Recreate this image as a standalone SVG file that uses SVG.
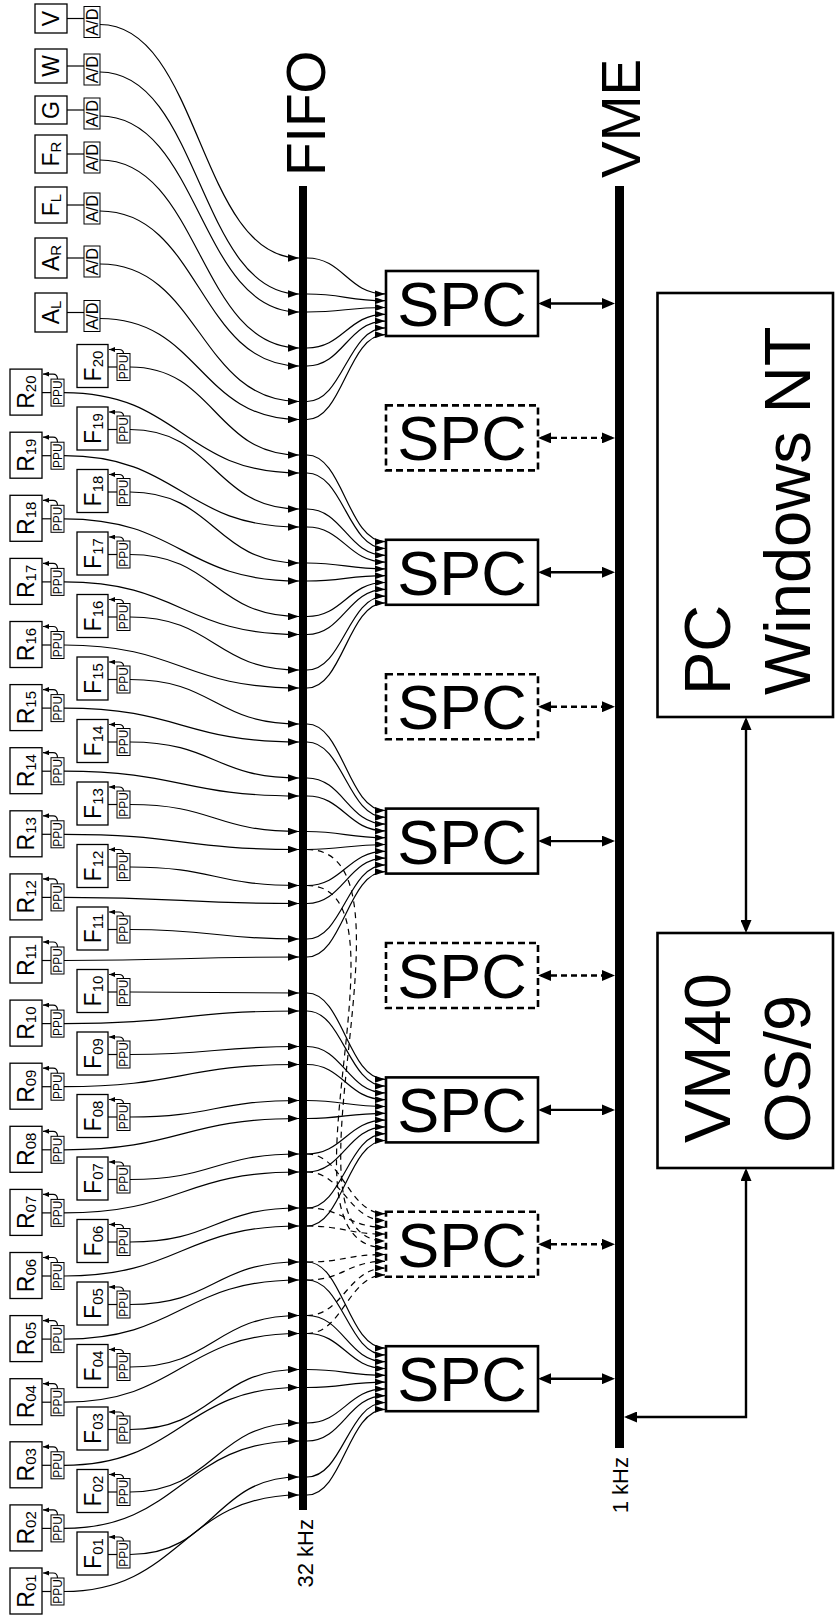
<svg xmlns="http://www.w3.org/2000/svg" width="839" height="1618" viewBox="0 0 839 1618">
<style>
text{font-family:"Liberation Sans",Arial,Helvetica,sans-serif;fill:#000}
.bx{fill:#fff;stroke:#000;stroke-width:1.3}
.sb{fill:#fff;stroke:#000;stroke-width:1}
.ln{fill:none;stroke:#000;stroke-width:1.2}
.cv{fill:none;stroke:#000;stroke-width:1.2;marker-end:url(#ah)}
.sc{fill:none;stroke:#000;stroke-width:1.2;marker-end:url(#ahs)}
.dc{fill:none;stroke:#000;stroke-width:1.2;stroke-dasharray:6 5;marker-end:url(#ahs)}
.spc{fill:#fff;stroke:#000;stroke-width:2.6}
.spcd{fill:#fff;stroke:#000;stroke-width:2.6;stroke-dasharray:7 4}
.big{fill:none;stroke:#000;stroke-width:2.4;marker-start:url(#bh);marker-end:url(#bh)}
.bigd{fill:none;stroke:#000;stroke-width:2.4;stroke-dasharray:6 4;marker-start:url(#bh);marker-end:url(#bh)}
.bus{fill:#000}
.lb{font-size:23px}
.ss{font-size:15px}
.tiny{font-size:12px}
.ad{font-size:16.5px}
.st{font-size:63px}
.pt{font-size:65px}
.bl{font-size:55px}
.hz{font-size:22px}
</style>
<defs>
<marker id="ah" markerUnits="userSpaceOnUse" viewBox="0 0 11 7.5" markerWidth="11" markerHeight="7.5" refX="11" refY="3.75" orient="auto"><path d="M0,0L11,3.75L0,7.5z" fill="#000"/></marker>
<marker id="ahs" markerUnits="userSpaceOnUse" viewBox="0 0 10 7" markerWidth="10" markerHeight="7" refX="10" refY="3.5" orient="auto"><path d="M0,0L10,3.5L0,7z" fill="#000"/></marker>
<marker id="bh" markerUnits="userSpaceOnUse" viewBox="0 0 13 11" markerWidth="13" markerHeight="11" refX="10" refY="5.5" orient="auto-start-reverse"><path d="M0,0L13,5.5L0,11z" fill="#000"/></marker>
<marker id="fb" markerUnits="userSpaceOnUse" viewBox="0 0 6 5" markerWidth="6" markerHeight="5" refX="6" refY="2.5" orient="auto"><path d="M0,0L6,2.5L0,5z" fill="#000"/></marker>
<g id="rs">
<rect class="bx" x="10" y="0" width="32" height="46"/>
<path class="ln" d="M42,23.5H51"/>
<rect class="sb" x="51" y="10" width="13" height="27"/>
<text class="tiny" transform="translate(62.3,23.5) rotate(-90)" text-anchor="middle">PPU</text>
<path class="ln" d="M57.5,10Q57.5,5 53,5H43" marker-end="url(#fb)"/>
</g>
<g id="fs">
<rect class="bx" x="77" y="0" width="31" height="43"/>
<path class="ln" d="M108,22.5H117"/>
<rect class="sb" x="117" y="9" width="13" height="27"/>
<text class="tiny" transform="translate(128.3,22.5) rotate(-90)" text-anchor="middle">PPU</text>
<path class="ln" d="M123.5,9Q123.5,5 119,5H109" marker-end="url(#fb)"/>
</g>
</defs>

<g id="connectors">
<path class="cv" d="M100,24.5C200,24.5 199,258 299,258"/>
<path class="cv" d="M100,72C200,72 199,294 299,294"/>
<path class="cv" d="M100,116C200,116 199,312 299,312"/>
<path class="cv" d="M100,160C200,160 199,348 299,348"/>
<path class="cv" d="M100,211C200,211 199,366 299,366"/>
<path class="cv" d="M100,264C200,264 199,401.5 299,401.5"/>
<path class="cv" d="M100,318.5C200,318.5 199,419.5 299,419.5"/>
<path class="cv" d="M64,1591.5C181,1591.5 182,1495 299,1495"/>
<path class="cv" d="M64,1528.4C181,1528.4 182,1441 299,1441"/>
<path class="cv" d="M64,1465.3C181,1465.3 182,1387.5 299,1387.5"/>
<path class="cv" d="M64,1402.2C181,1402.2 182,1333.5 299,1333.5"/>
<path class="cv" d="M64,1339.1C181,1339.1 182,1280 299,1280"/>
<path class="cv" d="M64,1276C181,1276 182,1226 299,1226"/>
<path class="cv" d="M64,1212.9C181,1212.9 182,1172 299,1172"/>
<path class="cv" d="M64,1149.8C181,1149.8 182,1118.5 299,1118.5"/>
<path class="cv" d="M64,1086.7C181,1086.7 182,1064.5 299,1064.5"/>
<path class="cv" d="M64,1023.6C181,1023.6 182,1011 299,1011"/>
<path class="cv" d="M64,960.5C181,960.5 182,957 299,957"/>
<path class="cv" d="M64,897.4C181,897.4 182,903.5 299,903.5"/>
<path class="cv" d="M64,834.3C181,834.3 182,849.5 299,849.5"/>
<path class="cv" d="M64,771.2C181,771.2 182,796 299,796"/>
<path class="cv" d="M64,708.1C181,708.1 182,742 299,742"/>
<path class="cv" d="M64,645C181,645 182,688 299,688"/>
<path class="cv" d="M64,581.9C181,581.9 182,634.5 299,634.5"/>
<path class="cv" d="M64,518.8C181,518.8 182,581 299,581"/>
<path class="cv" d="M64,455.7C181,455.7 182,527 299,527"/>
<path class="cv" d="M64,392.6C181,392.6 182,473 299,473"/>
<path class="cv" d="M130,1554.5C215,1554.5 214,1477 299,1477"/>
<path class="cv" d="M130,1492C215,1492 214,1423 299,1423"/>
<path class="cv" d="M130,1429.5C215,1429.5 214,1369.5 299,1369.5"/>
<path class="cv" d="M130,1367C215,1367 214,1315.5 299,1315.5"/>
<path class="cv" d="M130,1304.5C215,1304.5 214,1262 299,1262"/>
<path class="cv" d="M130,1242C215,1242 214,1208 299,1208"/>
<path class="cv" d="M130,1179.5C215,1179.5 214,1154 299,1154"/>
<path class="cv" d="M130,1117C215,1117 214,1100.5 299,1100.5"/>
<path class="cv" d="M130,1054.5C215,1054.5 214,1046.5 299,1046.5"/>
<path class="cv" d="M130,992C215,992 214,993 299,993"/>
<path class="cv" d="M130,929.5C215,929.5 214,939 299,939"/>
<path class="cv" d="M130,867C215,867 214,885.5 299,885.5"/>
<path class="cv" d="M130,804.5C215,804.5 214,831.5 299,831.5"/>
<path class="cv" d="M130,742C215,742 214,778 299,778"/>
<path class="cv" d="M130,679.5C215,679.5 214,724 299,724"/>
<path class="cv" d="M130,617C215,617 214,670 299,670"/>
<path class="cv" d="M130,554.5C215,554.5 214,616.5 299,616.5"/>
<path class="cv" d="M130,492C215,492 214,563 299,563"/>
<path class="cv" d="M130,429.5C215,429.5 214,509 299,509"/>
<path class="cv" d="M130,367C215,367 214,455 299,455"/>

<path class="sc" d="M307,258C343,258 348,293.9 385,293.9"/>
<path class="sc" d="M307,294C343,294 348,300.7 385,300.7"/>
<path class="sc" d="M307,312C343,312 348,307.5 385,307.5"/>
<path class="sc" d="M307,348C343,348 348,314.3 385,314.3"/>
<path class="sc" d="M307,366C343,366 348,321.1 385,321.1"/>
<path class="sc" d="M307,401.5C343,401.5 348,327.9 385,327.9"/>
<path class="sc" d="M307,419.5C343,419.5 348,334.7 385,334.7"/>

<path class="sc" d="M307,455C343,455 348,541.7 385,541.7"/>
<path class="sc" d="M307,473C343,473 348,548.5 385,548.5"/>
<path class="sc" d="M307,509C343,509 348,555.3 385,555.3"/>
<path class="sc" d="M307,527C343,527 348,562.1 385,562.1"/>
<path class="sc" d="M307,563C343,563 348,568.9 385,568.9"/>
<path class="sc" d="M307,581C343,581 348,575.7 385,575.7"/>
<path class="sc" d="M307,616.5C343,616.5 348,582.5 385,582.5"/>
<path class="sc" d="M307,634.5C343,634.5 348,589.3 385,589.3"/>
<path class="sc" d="M307,670C343,670 348,596.1 385,596.1"/>
<path class="sc" d="M307,688C343,688 348,602.9 385,602.9"/>

<path class="sc" d="M307,724C343,724 348,810.5 385,810.5"/>
<path class="sc" d="M307,742C343,742 348,817.3 385,817.3"/>
<path class="sc" d="M307,778C343,778 348,824.1 385,824.1"/>
<path class="sc" d="M307,796C343,796 348,830.9 385,830.9"/>
<path class="sc" d="M307,831.5C343,831.5 348,837.7 385,837.7"/>
<path class="sc" d="M307,849.5C343,849.5 348,844.5 385,844.5"/>
<path class="sc" d="M307,885.5C343,885.5 348,851.3 385,851.3"/>
<path class="sc" d="M307,903.5C343,903.5 348,858.1 385,858.1"/>
<path class="sc" d="M307,939C343,939 348,864.9 385,864.9"/>
<path class="sc" d="M307,957C343,957 348,871.7 385,871.7"/>

<path class="sc" d="M307,993C343,993 348,1079.3 385,1079.3"/>
<path class="sc" d="M307,1011C343,1011 348,1086.1 385,1086.1"/>
<path class="sc" d="M307,1046.5C343,1046.5 348,1092.9 385,1092.9"/>
<path class="sc" d="M307,1064.5C343,1064.5 348,1099.7 385,1099.7"/>
<path class="sc" d="M307,1100.5C343,1100.5 348,1106.5 385,1106.5"/>
<path class="sc" d="M307,1118.5C343,1118.5 348,1113.3 385,1113.3"/>
<path class="sc" d="M307,1154C343,1154 348,1120.1 385,1120.1"/>
<path class="sc" d="M307,1172C343,1172 348,1126.9 385,1126.9"/>
<path class="sc" d="M307,1208C343,1208 348,1133.7 385,1133.7"/>
<path class="sc" d="M307,1226C343,1226 348,1140.5 385,1140.5"/>

<path class="sc" d="M307,1262C343,1262 348,1348.1 385,1348.1"/>
<path class="sc" d="M307,1280C343,1280 348,1354.9 385,1354.9"/>
<path class="sc" d="M307,1315.5C343,1315.5 348,1361.7 385,1361.7"/>
<path class="sc" d="M307,1333.5C343,1333.5 348,1368.5 385,1368.5"/>
<path class="sc" d="M307,1369.5C343,1369.5 348,1375.3 385,1375.3"/>
<path class="sc" d="M307,1387.5C343,1387.5 348,1382.1 385,1382.1"/>
<path class="sc" d="M307,1423C343,1423 348,1388.9 385,1388.9"/>
<path class="sc" d="M307,1441C343,1441 348,1395.7 385,1395.7"/>
<path class="sc" d="M307,1477C343,1477 348,1402.5 385,1402.5"/>
<path class="sc" d="M307,1495C343,1495 348,1409.3 385,1409.3"/>

<path class="dc" d="M307,1154C343,1154 348,1213.7 385,1213.7"/>
<path class="dc" d="M307,1172C343,1172 348,1220.5 385,1220.5"/>
<path class="dc" d="M307,1208C343,1208 348,1227.3 385,1227.3"/>
<path class="dc" d="M307,1226C343,1226 348,1234.1 385,1234.1"/>
<path class="dc" d="M307,849.5C430,849.5 270,1240.9 385,1240.9"/>
<path class="dc" d="M307,885.5C420,885.5 265,1247.7 385,1247.7"/>
<path class="dc" d="M307,1262C343,1262 348,1254.5 385,1254.5"/>
<path class="dc" d="M307,1280C343,1280 348,1261.3 385,1261.3"/>
<path class="dc" d="M307,1315.5C343,1315.5 348,1268.1 385,1268.1"/>
<path class="dc" d="M307,1333.5C343,1333.5 348,1274.9 385,1274.9"/>

<path class="big" d="M541,303.5H612"/>
<path class="bigd" d="M541,437.9H612"/>
<path class="big" d="M541,572.3H612"/>
<path class="bigd" d="M541,706.7H612"/>
<path class="big" d="M541,841.1H612"/>
<path class="bigd" d="M541,975.5H612"/>
<path class="big" d="M541,1109.9H612"/>
<path class="bigd" d="M541,1244.3H612"/>
<path class="big" d="M541,1378.7H612"/>
<path class="big" d="M746,720V930"/>
<path class="big" d="M746,1171V1417H627"/>
</g>

<g id="FIFO">
<rect class="bus" x="299" y="186" width="8" height="1324"/>
<text class="bl" transform="translate(325,176) rotate(-90)">FIFO</text>
<text class="hz" transform="translate(313,1519) rotate(-90)" text-anchor="end">32 kHz</text>
</g>
<g id="VME">
<rect class="bus" x="615" y="186" width="9" height="1262"/>
<text class="bl" transform="translate(640,178) rotate(-90)">VME</text>
<text class="hz" transform="translate(628,1457) rotate(-90)" text-anchor="end">1 kHz</text>
</g>

<g id="V"><rect class="bx" x="35" y="4" width="32" height="29"/><text class="lb" transform="translate(59,18.5) rotate(-90)" text-anchor="middle">V</text><path class="ln" d="M67,18.5H84"/><rect class="sb" x="84" y="6.5" width="16" height="31"/><text class="ad" transform="translate(98,22) rotate(-90)" text-anchor="middle">A/D</text></g>
<g id="W"><rect class="bx" x="35" y="49" width="32" height="34"/><text class="lb" transform="translate(59,66) rotate(-90)" text-anchor="middle">W</text><path class="ln" d="M67,66H84"/><rect class="sb" x="84" y="54" width="16" height="31"/><text class="ad" transform="translate(98,69.5) rotate(-90)" text-anchor="middle">A/D</text></g>
<g id="G"><rect class="bx" x="35" y="96" width="32" height="28"/><text class="lb" transform="translate(59,110) rotate(-90)" text-anchor="middle">G</text><path class="ln" d="M67,110H84"/><rect class="sb" x="84" y="98" width="16" height="31"/><text class="ad" transform="translate(98,113.5) rotate(-90)" text-anchor="middle">A/D</text></g>
<g id="FR"><rect class="bx" x="35" y="135" width="32" height="38"/><text class="lb" transform="translate(59,154) rotate(-90)" text-anchor="middle">F<tspan class="ss" dy="2">R</tspan></text><path class="ln" d="M67,154H84"/><rect class="sb" x="84" y="142" width="16" height="31"/><text class="ad" transform="translate(98,157.5) rotate(-90)" text-anchor="middle">A/D</text></g>
<g id="FL"><rect class="bx" x="35" y="187" width="32" height="36"/><text class="lb" transform="translate(59,205) rotate(-90)" text-anchor="middle">F<tspan class="ss" dy="2">L</tspan></text><path class="ln" d="M67,205H84"/><rect class="sb" x="84" y="193" width="16" height="31"/><text class="ad" transform="translate(98,208.5) rotate(-90)" text-anchor="middle">A/D</text></g>
<g id="AR"><rect class="bx" x="35" y="238" width="32" height="40"/><text class="lb" transform="translate(59,258) rotate(-90)" text-anchor="middle">A<tspan class="ss" dy="2">R</tspan></text><path class="ln" d="M67,258H84"/><rect class="sb" x="84" y="246" width="16" height="31"/><text class="ad" transform="translate(98,261.5) rotate(-90)" text-anchor="middle">A/D</text></g>
<g id="AL"><rect class="bx" x="35" y="293" width="32" height="39"/><text class="lb" transform="translate(59,312.5) rotate(-90)" text-anchor="middle">A<tspan class="ss" dy="2">L</tspan></text><path class="ln" d="M67,312.5H84"/><rect class="sb" x="84" y="300.5" width="16" height="31"/><text class="ad" transform="translate(98,316) rotate(-90)" text-anchor="middle">A/D</text></g>

<g id="R01" transform="translate(0,1568)"><use href="#rs"/><text class="lb" transform="translate(33.5,23) rotate(-90)" text-anchor="middle">R<tspan class="ss" dy="2">01</tspan></text></g>
<g id="R02" transform="translate(0,1504.9)"><use href="#rs"/><text class="lb" transform="translate(33.5,23) rotate(-90)" text-anchor="middle">R<tspan class="ss" dy="2">02</tspan></text></g>
<g id="R03" transform="translate(0,1441.8)"><use href="#rs"/><text class="lb" transform="translate(33.5,23) rotate(-90)" text-anchor="middle">R<tspan class="ss" dy="2">03</tspan></text></g>
<g id="R04" transform="translate(0,1378.7)"><use href="#rs"/><text class="lb" transform="translate(33.5,23) rotate(-90)" text-anchor="middle">R<tspan class="ss" dy="2">04</tspan></text></g>
<g id="R05" transform="translate(0,1315.6)"><use href="#rs"/><text class="lb" transform="translate(33.5,23) rotate(-90)" text-anchor="middle">R<tspan class="ss" dy="2">05</tspan></text></g>
<g id="R06" transform="translate(0,1252.5)"><use href="#rs"/><text class="lb" transform="translate(33.5,23) rotate(-90)" text-anchor="middle">R<tspan class="ss" dy="2">06</tspan></text></g>
<g id="R07" transform="translate(0,1189.4)"><use href="#rs"/><text class="lb" transform="translate(33.5,23) rotate(-90)" text-anchor="middle">R<tspan class="ss" dy="2">07</tspan></text></g>
<g id="R08" transform="translate(0,1126.3)"><use href="#rs"/><text class="lb" transform="translate(33.5,23) rotate(-90)" text-anchor="middle">R<tspan class="ss" dy="2">08</tspan></text></g>
<g id="R09" transform="translate(0,1063.2)"><use href="#rs"/><text class="lb" transform="translate(33.5,23) rotate(-90)" text-anchor="middle">R<tspan class="ss" dy="2">09</tspan></text></g>
<g id="R10" transform="translate(0,1000.1)"><use href="#rs"/><text class="lb" transform="translate(33.5,23) rotate(-90)" text-anchor="middle">R<tspan class="ss" dy="2">10</tspan></text></g>
<g id="R11" transform="translate(0,937)"><use href="#rs"/><text class="lb" transform="translate(33.5,23) rotate(-90)" text-anchor="middle">R<tspan class="ss" dy="2">11</tspan></text></g>
<g id="R12" transform="translate(0,873.9)"><use href="#rs"/><text class="lb" transform="translate(33.5,23) rotate(-90)" text-anchor="middle">R<tspan class="ss" dy="2">12</tspan></text></g>
<g id="R13" transform="translate(0,810.8)"><use href="#rs"/><text class="lb" transform="translate(33.5,23) rotate(-90)" text-anchor="middle">R<tspan class="ss" dy="2">13</tspan></text></g>
<g id="R14" transform="translate(0,747.7)"><use href="#rs"/><text class="lb" transform="translate(33.5,23) rotate(-90)" text-anchor="middle">R<tspan class="ss" dy="2">14</tspan></text></g>
<g id="R15" transform="translate(0,684.6)"><use href="#rs"/><text class="lb" transform="translate(33.5,23) rotate(-90)" text-anchor="middle">R<tspan class="ss" dy="2">15</tspan></text></g>
<g id="R16" transform="translate(0,621.5)"><use href="#rs"/><text class="lb" transform="translate(33.5,23) rotate(-90)" text-anchor="middle">R<tspan class="ss" dy="2">16</tspan></text></g>
<g id="R17" transform="translate(0,558.4)"><use href="#rs"/><text class="lb" transform="translate(33.5,23) rotate(-90)" text-anchor="middle">R<tspan class="ss" dy="2">17</tspan></text></g>
<g id="R18" transform="translate(0,495.3)"><use href="#rs"/><text class="lb" transform="translate(33.5,23) rotate(-90)" text-anchor="middle">R<tspan class="ss" dy="2">18</tspan></text></g>
<g id="R19" transform="translate(0,432.2)"><use href="#rs"/><text class="lb" transform="translate(33.5,23) rotate(-90)" text-anchor="middle">R<tspan class="ss" dy="2">19</tspan></text></g>
<g id="R20" transform="translate(0,369.1)"><use href="#rs"/><text class="lb" transform="translate(33.5,23) rotate(-90)" text-anchor="middle">R<tspan class="ss" dy="2">20</tspan></text></g>

<g id="F01" transform="translate(0,1532)"><use href="#fs"/><text class="lb" transform="translate(100.5,21.5) rotate(-90)" text-anchor="middle">F<tspan class="ss" dy="2">01</tspan></text></g>
<g id="F02" transform="translate(0,1469.5)"><use href="#fs"/><text class="lb" transform="translate(100.5,21.5) rotate(-90)" text-anchor="middle">F<tspan class="ss" dy="2">02</tspan></text></g>
<g id="F03" transform="translate(0,1407)"><use href="#fs"/><text class="lb" transform="translate(100.5,21.5) rotate(-90)" text-anchor="middle">F<tspan class="ss" dy="2">03</tspan></text></g>
<g id="F04" transform="translate(0,1344.5)"><use href="#fs"/><text class="lb" transform="translate(100.5,21.5) rotate(-90)" text-anchor="middle">F<tspan class="ss" dy="2">04</tspan></text></g>
<g id="F05" transform="translate(0,1282)"><use href="#fs"/><text class="lb" transform="translate(100.5,21.5) rotate(-90)" text-anchor="middle">F<tspan class="ss" dy="2">05</tspan></text></g>
<g id="F06" transform="translate(0,1219.5)"><use href="#fs"/><text class="lb" transform="translate(100.5,21.5) rotate(-90)" text-anchor="middle">F<tspan class="ss" dy="2">06</tspan></text></g>
<g id="F07" transform="translate(0,1157)"><use href="#fs"/><text class="lb" transform="translate(100.5,21.5) rotate(-90)" text-anchor="middle">F<tspan class="ss" dy="2">07</tspan></text></g>
<g id="F08" transform="translate(0,1094.5)"><use href="#fs"/><text class="lb" transform="translate(100.5,21.5) rotate(-90)" text-anchor="middle">F<tspan class="ss" dy="2">08</tspan></text></g>
<g id="F09" transform="translate(0,1032)"><use href="#fs"/><text class="lb" transform="translate(100.5,21.5) rotate(-90)" text-anchor="middle">F<tspan class="ss" dy="2">09</tspan></text></g>
<g id="F10" transform="translate(0,969.5)"><use href="#fs"/><text class="lb" transform="translate(100.5,21.5) rotate(-90)" text-anchor="middle">F<tspan class="ss" dy="2">10</tspan></text></g>
<g id="F11" transform="translate(0,907)"><use href="#fs"/><text class="lb" transform="translate(100.5,21.5) rotate(-90)" text-anchor="middle">F<tspan class="ss" dy="2">11</tspan></text></g>
<g id="F12" transform="translate(0,844.5)"><use href="#fs"/><text class="lb" transform="translate(100.5,21.5) rotate(-90)" text-anchor="middle">F<tspan class="ss" dy="2">12</tspan></text></g>
<g id="F13" transform="translate(0,782)"><use href="#fs"/><text class="lb" transform="translate(100.5,21.5) rotate(-90)" text-anchor="middle">F<tspan class="ss" dy="2">13</tspan></text></g>
<g id="F14" transform="translate(0,719.5)"><use href="#fs"/><text class="lb" transform="translate(100.5,21.5) rotate(-90)" text-anchor="middle">F<tspan class="ss" dy="2">14</tspan></text></g>
<g id="F15" transform="translate(0,657)"><use href="#fs"/><text class="lb" transform="translate(100.5,21.5) rotate(-90)" text-anchor="middle">F<tspan class="ss" dy="2">15</tspan></text></g>
<g id="F16" transform="translate(0,594.5)"><use href="#fs"/><text class="lb" transform="translate(100.5,21.5) rotate(-90)" text-anchor="middle">F<tspan class="ss" dy="2">16</tspan></text></g>
<g id="F17" transform="translate(0,532)"><use href="#fs"/><text class="lb" transform="translate(100.5,21.5) rotate(-90)" text-anchor="middle">F<tspan class="ss" dy="2">17</tspan></text></g>
<g id="F18" transform="translate(0,469.5)"><use href="#fs"/><text class="lb" transform="translate(100.5,21.5) rotate(-90)" text-anchor="middle">F<tspan class="ss" dy="2">18</tspan></text></g>
<g id="F19" transform="translate(0,407)"><use href="#fs"/><text class="lb" transform="translate(100.5,21.5) rotate(-90)" text-anchor="middle">F<tspan class="ss" dy="2">19</tspan></text></g>
<g id="F20" transform="translate(0,344.5)"><use href="#fs"/><text class="lb" transform="translate(100.5,21.5) rotate(-90)" text-anchor="middle">F<tspan class="ss" dy="2">20</tspan></text></g>

<g id="SPC1"><rect class="spc" x="386" y="271" width="152" height="65"/><text class="st" x="462" y="326" text-anchor="middle">SPC</text></g>
<g id="SPC2"><rect class="spcd" x="386" y="405.4" width="152" height="65"/><text class="st" x="462" y="460.4" text-anchor="middle">SPC</text></g>
<g id="SPC3"><rect class="spc" x="386" y="539.8" width="152" height="65"/><text class="st" x="462" y="594.8" text-anchor="middle">SPC</text></g>
<g id="SPC4"><rect class="spcd" x="386" y="674.2" width="152" height="65"/><text class="st" x="462" y="729.2" text-anchor="middle">SPC</text></g>
<g id="SPC5"><rect class="spc" x="386" y="808.6" width="152" height="65"/><text class="st" x="462" y="863.6" text-anchor="middle">SPC</text></g>
<g id="SPC6"><rect class="spcd" x="386" y="943" width="152" height="65"/><text class="st" x="462" y="998" text-anchor="middle">SPC</text></g>
<g id="SPC7"><rect class="spc" x="386" y="1077.4" width="152" height="65"/><text class="st" x="462" y="1132.4" text-anchor="middle">SPC</text></g>
<g id="SPC8"><rect class="spcd" x="386" y="1211.8" width="152" height="65"/><text class="st" x="462" y="1266.8" text-anchor="middle">SPC</text></g>
<g id="SPC9"><rect class="spc" x="386" y="1346.2" width="152" height="65"/><text class="st" x="462" y="1401.2" text-anchor="middle">SPC</text></g>

<g id="PC"><rect class="spc" x="657.5" y="293" width="175.5" height="424"/><text class="pt" transform="translate(730,695) rotate(-90)">PC</text><text class="pt" transform="translate(810,695) rotate(-90)">Windows NT</text></g>
<g id="VM40"><rect class="spc" x="657.5" y="933" width="175.5" height="235"/><text class="pt" transform="translate(730,1143) rotate(-90)">VM40</text><text class="pt" transform="translate(810,1143) rotate(-90)">OS/9</text></g>
</svg>
